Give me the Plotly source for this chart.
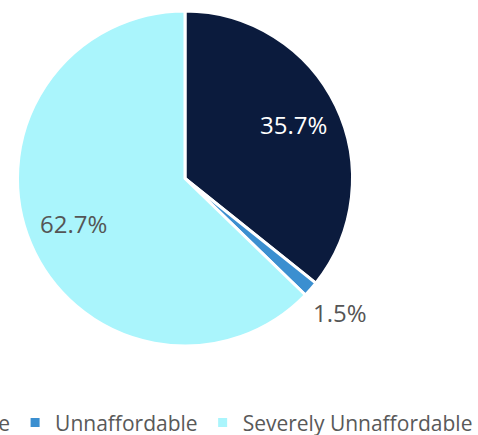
import math
import plotly.graph_objects as go

# Share of households by affordability band (%)
categories = ["Affordable", "Unnaffordable", "Severely Unnaffordable"]
shares = [35.7, 1.5, 62.7]

colors = ["#0b1b3d", "#3b8fd0", "#aaf5fc"]
label_colors = ["#ffffff", "#555555", "#555555"]
label_radius = [0.72, 1.23, 0.72]   # label distance from centre, in radii

VIEW_W, VIEW_H = 478, 435
SHIFT = 180                     # the canvas extends past the left edge of the view
FIG_W = VIEW_W + SHIFT
M_T, M_B = 11, 89
PLOT_H = VIEW_H - M_T - M_B

cx, r = 185 + SHIFT, PLOT_H / 2  # pie centre (canvas px) and radius
dom_x = [(cx - r) / FIG_W, (cx + r) / FIG_W]

FONT = "Open Sans"

fig = go.Figure(
    go.Pie(
        labels=categories,
        values=shares,
        sort=False,
        direction="clockwise",
        rotation=0,
        marker=dict(colors=colors, line=dict(color="#ffffff", width=3)),
        textinfo="none",
        hoverinfo="label+value",
        domain=dict(x=dom_x, y=[0, 1]),
    )
)

# value labels at each slice's mid-angle (clockwise from 12 o'clock)
total = sum(shares)
cum = 0.0
annotations = []
for val, col, k in zip(shares, label_colors, label_radius):
    mid = (cum + val / 2) / total * 2 * math.pi
    cum += val
    px = cx + k * r * math.sin(mid)
    py = M_T + r - k * r * math.cos(mid) - 2
    annotations.append(
        dict(
            x=px / FIG_W,
            y=(VIEW_H - M_B - py) / PLOT_H,
            xref="paper",
            yref="paper",
            text=f"{val:.1f}%",
            showarrow=False,
            xanchor="center",
            yanchor="middle",
            font=dict(family=FONT, size=24, color=col),
        )
    )

fig.update_layout(
    width=FIG_W,
    height=VIEW_H,
    margin=dict(l=0, r=0, t=M_T, b=M_B, autoexpand=False),
    paper_bgcolor="white",
    plot_bgcolor="white",
    font=dict(family=FONT, color="#595959"),
    annotations=annotations,
    showlegend=True,
    legend=dict(
        orientation="h",
        xref="paper",
        x=1,
        xanchor="right",
        yref="container",
        y=0.075,
        yanchor="top",
        font=dict(family=FONT, size=21, color="#595959"),
        itemclick=False,
    ),
)

post = (
    "var gd=document.getElementById('{plot_id}');"
    "gd.style.marginLeft='-" + str(SHIFT) + "px';"
    "document.body.style.margin='0';"
    "document.body.style.overflow='hidden';"
)
fig.write_html("out.html", post_script=post)
